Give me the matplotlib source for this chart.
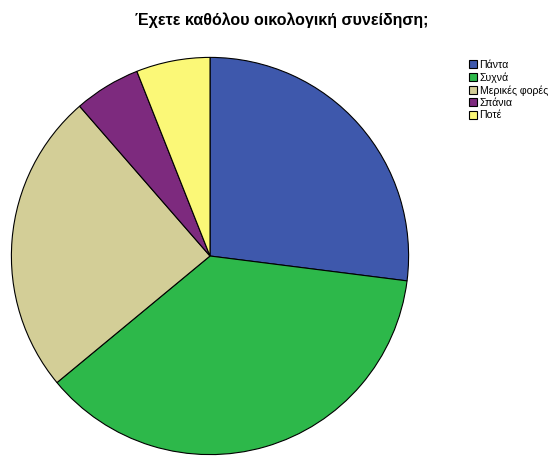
import matplotlib
matplotlib.use("Agg")
import matplotlib.pyplot as plt

labels = ["Πάντα", "Συχνά", "Μερικές φορές", "Σπάνια", "Ποτέ"]
values = [27.0, 37.0, 24.6, 5.4, 6.0]
colors = ["#3E58AC", "#2DB84A", "#D3CE97", "#7D2A7E", "#FBF877"]

plt.rcParams["font.family"] = ["Liberation Sans", "DejaVu Sans"]

fig = plt.figure(figsize=(5.56, 4.69), dpi=100)
ax = fig.add_axes([11 / 556, 1 - 455 / 469, 398 / 556, 398 / 469])
wedges, _ = ax.pie(values, colors=colors, startangle=90, counterclock=False,
                   wedgeprops=dict(edgecolor="black", linewidth=0.8))
ax.set_xlim(-1.002, 1.002)
ax.set_ylim(-1.002, 1.002)
ax.set_aspect("equal")

fig.text(282 / 556, 1 - 20 / 469, "Έχετε καθόλου οικολογική συνείδηση;",
         ha="center", va="center", fontsize=11.5, fontweight="bold")

fig.legend(wedges, labels, loc="upper left", bbox_to_anchor=(469 / 556, 1 - 60 / 469),
           frameon=False, fontsize=7.6, handlelength=0.75, handleheight=0.8,
           handletextpad=0.25, labelspacing=0.22, borderaxespad=0, borderpad=0)

fig.savefig("out.png", dpi=100)
